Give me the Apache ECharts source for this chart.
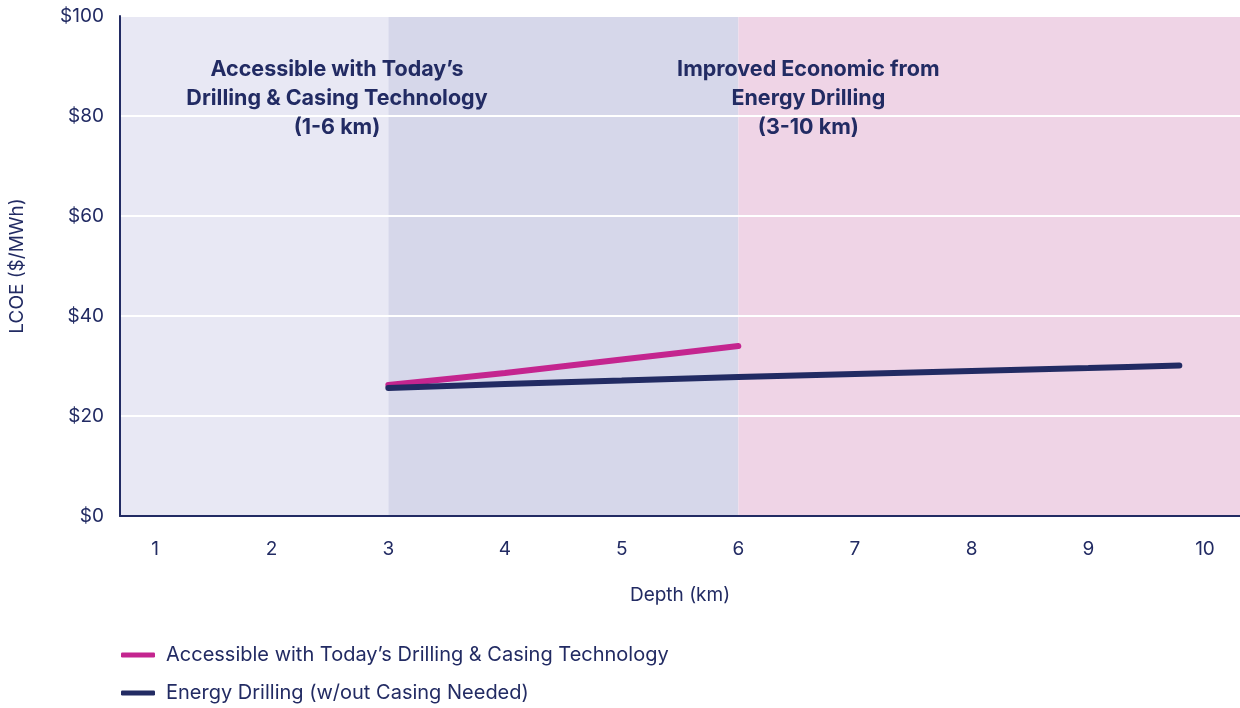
<!DOCTYPE html>
<html>
<head>
<meta charset="utf-8">
<script src="https://cdn.jsdelivr.net/npm/echarts@6/dist/echarts.min.js"></script>
<style>
  html, body { margin: 0; padding: 0; background: #ffffff; }
  #chart { width: 1240px; height: 708px; }
</style>
</head>
<body>
<div id="chart"></div>
<script>
// Levelized cost of electricity versus drilling depth
const depthTicks = [1, 2, 3, 4, 5, 6, 7, 8, 9, 10];
const todayDepth = [3, 4, 5, 6];
const todayLcoe = [26.2, 28.6, 31.3, 34.0];
const energyDepth = [3, 4, 5, 6, 7, 8, 9, 9.78];
const energyLcoe = [25.6, 26.4, 27.1, 27.8, 28.4, 29.0, 29.6, 30.1];

const seriesNames = [
  'Accessible with Today\u2019s Drilling & Casing Technology',
  'Energy Drilling (w/out Casing Needed)'
];

// Depth ranges shaded behind the lines
const bands = [
  { from: 0.7, to: 3, color: '#e8e8f4' },
  { from: 3, to: 6, color: '#d6d7ea' },
  { from: 6, to: 10.3, color: '#efd4e6' }
];

const navy = '#222b63';
const pink = '#c4258f';
const font = 'Inter, "Noto Sans", sans-serif';

const zip = (xs, ys) => xs.map((x, i) => [x, ys[i]]);

const chart = echarts.init(document.getElementById('chart'));
chart.setOption({
  animation: false,
  textStyle: { fontFamily: font, color: navy },
  grid: { left: 120, right: 0, top: 16, bottom: 192 },
  xAxis: {
    type: 'value',
    min: 0.7,
    max: 10.3,
    z: 2,
    name: 'Depth (km)',
    nameLocation: 'middle',
    nameGap: 70,
    nameTextStyle: { fontSize: 19, color: navy, fontFamily: font },
    axisLine: { show: true, onZero: false, lineStyle: { color: navy, width: 2 } },
    axisTick: { show: false },
    splitLine: { show: false },
    axisLabel: {
      customValues: depthTicks,
      margin: 24,
      fontSize: 19,
      color: navy,
      fontFamily: font
    }
  },
  yAxis: {
    type: 'value',
    min: 0,
    max: 100,
    interval: 20,
    z: 2,
    name: 'LCOE ($/MWh)',
    nameLocation: 'middle',
    nameGap: 93,
    nameRotate: 90,
    nameTextStyle: { fontSize: 19, color: navy, fontFamily: font },
    axisLine: { show: true, lineStyle: { color: navy, width: 2 } },
    axisTick: { show: false },
    splitLine: { show: true, lineStyle: { color: '#ffffff', width: 2 } },
    axisLabel: {
      formatter: v => '$' + v,
      margin: 16,
      fontSize: 19,
      color: navy,
      fontFamily: font
    }
  },
  legend: {
    orient: 'vertical',
    left: 116,
    top: 640,
    bottom: 0,
    itemGap: 18,
    itemWidth: 34,
    itemHeight: 5,
    icon: 'roundRect',
    textStyle: { fontSize: 20, color: navy, fontFamily: font, padding: [0, 0, 0, 6] },
    data: seriesNames
  },
  series: [
    {
      name: 'bands',
      type: 'line',
      data: [],
      silent: true,
      z: 0,
      markArea: {
        silent: true,
        data: bands.map(b => [
          { xAxis: b.from, itemStyle: { color: b.color } },
          { xAxis: b.to, yAxis: 100 }
        ])
      },
      markPoint: {
        symbol: 'rect',
        symbolSize: 1,
        itemStyle: { color: 'rgba(0,0,0,0)' },
        label: {
          show: true,
          position: 'inside',
          fontSize: 21.5,
          fontWeight: 'bold',
          lineHeight: 29,
          color: navy,
          fontFamily: font,
          align: 'center'
        },
        data: [
          {
            coord: [2.56, 83.4],
            label: { formatter: 'Accessible with Today\u2019s\nDrilling & Casing Technology\n(1-6 km)' }
          },
          {
            coord: [6.6, 83.4],
            label: { formatter: 'Improved Economic from\nEnergy Drilling\n(3-10 km)' }
          }
        ]
      }
    },
    {
      name: seriesNames[0],
      type: 'line',
      data: zip(todayDepth, todayLcoe),
      smooth: 0.3,
      showSymbol: false,
      z: 3,
      itemStyle: { color: pink },
      lineStyle: { color: pink, width: 6, cap: 'round' }
    },
    {
      name: seriesNames[1],
      type: 'line',
      data: zip(energyDepth, energyLcoe),
      smooth: 0.3,
      showSymbol: false,
      z: 4,
      itemStyle: { color: navy },
      lineStyle: { color: navy, width: 6, cap: 'round' }
    }
  ]
});
</script>
</body>
</html>
